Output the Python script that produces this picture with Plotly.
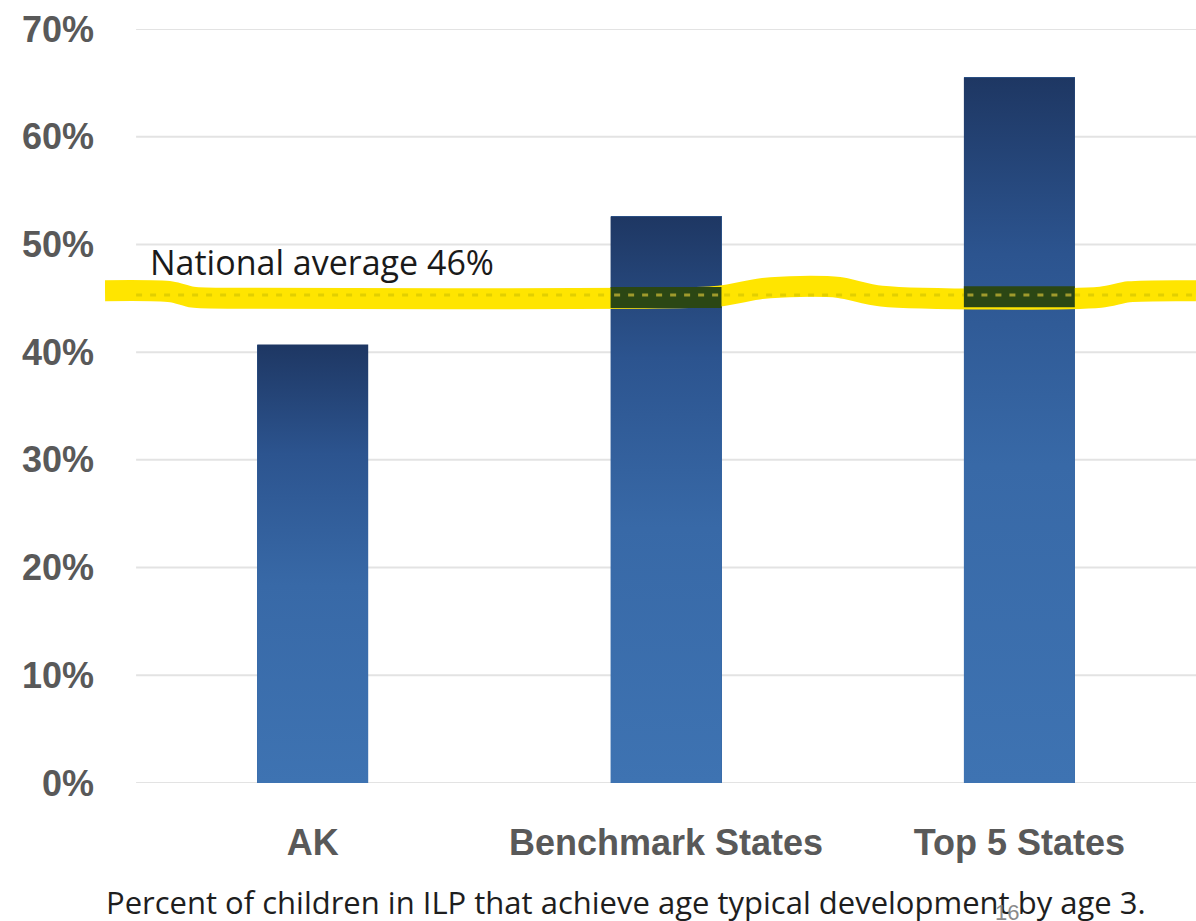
import numpy as np
import plotly.graph_objects as go

# ---- data ----
CATEGORIES = ["AK", "Benchmark States", "Top 5 States"]
VALUES = [0.407, 0.526, 0.655]
NATIONAL_AVG_LABEL = "National average 46%"
NATIONAL_AVG_LINE = 0.453
Y_TICKS = [0, 0.1, 0.2, 0.3, 0.4, 0.5, 0.6, 0.7]
Y_TICK_TEXT = ["0%", "10%", "20%", "30%", "40%", "50%", "60%", "70%"]
CAPTION = "Percent of children in ILP that achieve age typical development by age 3."
SLIDE_NO = "16"

# hand-drawn highlighter stroke (x in category units, y in value units)
HL_X = [-0.588, -0.40, -0.34, -0.18, 0.93, 1.15, 1.27, 1.38, 1.49, 1.61, 2.23, 2.31, 2.50]
HL_Y = [0.457, 0.456, 0.451, 0.450, 0.450, 0.452, 0.459, 0.461, 0.460, 0.452, 0.451, 0.456, 0.457]

BAR_W = 0.314
HL_WIDTH = 21
pos = list(range(len(CATEGORIES)))

fig = go.Figure()

# gridlines
for t in Y_TICKS:
    fig.add_shape(type="line", xref="x", yref="y", x0=-0.5, x1=2.5, y0=t, y1=t,
                  line=dict(color="#e3e3e3", width=2), layer="below")

# bars (base) and gradient overlay
fig.add_trace(go.Bar(x=pos, y=VALUES, width=BAR_W, marker=dict(color="#3566a2", line=dict(width=0)),
                     hoverinfo="skip", showlegend=False))
grad = [[0.0, "#3e73b2"], [0.45, "#3869a7"], [0.75, "#2c548f"], [1.0, "#1e3763"]]
for p, v in zip(pos, VALUES):
    l, r = p - BAR_W / 2, p + BAR_W / 2
    fig.add_trace(go.Scatter(x=[l, r, r, l, l], y=[0, 0, v, v, 0], mode="lines", fill="toself",
                             line=dict(width=0), fillgradient=dict(type="vertical", colorscale=grad),
                             hoverinfo="skip", showlegend=False))

# highlighter stroke
fig.add_trace(go.Scatter(x=HL_X, y=HL_Y, mode="lines",
                         line=dict(color="#ffe500", width=HL_WIDTH, shape="spline", smoothing=0.8),
                         hoverinfo="skip", showlegend=False))
# faint dashed average line visible through highlighter
fig.add_trace(go.Scatter(x=[-0.5, 2.5], y=[NATIONAL_AVG_LINE] * 2, mode="lines",
                         line=dict(color="#e2cf00", width=3, dash="6px,8px"), hoverinfo="skip", showlegend=False))

# highlighter over bars -> dark green band
hl_px_per_unit = 1077.0
half = (HL_WIDTH / 2) / hl_px_per_unit
for p, v in zip(pos, VALUES):
    yc = float(np.interp(p, HL_X, HL_Y))
    if v > yc - half:
        l, r = p - BAR_W / 2, p + BAR_W / 2
        top = min(v, yc + half)
        fig.add_trace(go.Scatter(x=[l, r, r, l, l], y=[yc - half, yc - half, top, top, yc - half],
                                 mode="lines", fill="toself", fillcolor="#2b4714", line=dict(width=0),
                                 hoverinfo="skip", showlegend=False))
        fig.add_trace(go.Scatter(x=[l + 0.01, r], y=[NATIONAL_AVG_LINE] * 2, mode="lines",
                                 line=dict(color="#9f9a2c", width=3, dash="6px,8px"),
                                 hoverinfo="skip", showlegend=False))

# annotations
fig.add_annotation(x=-0.466, y=0.4837, xref="x", yref="y", text=NATIONAL_AVG_LABEL, showarrow=False,
                   xanchor="left", yanchor="middle",
                   font=dict(family="Open Sans", size=34, color="#1a1a1a"))
fig.add_annotation(x=0.478, y=-0.158, xref="paper", yref="paper", text=CAPTION, showarrow=False,
                   xanchor="center", yanchor="middle",
                   font=dict(family="Open Sans", size=31, color="#1e1e1e"))
fig.add_annotation(x=0.827, y=-0.172, xref="paper", yref="paper", text=SLIDE_NO, showarrow=False,
                   xanchor="center", yanchor="middle",
                   font=dict(family="Liberation Sans", size=22, color="#8a8a8a"))

fig.update_layout(
    width=1196, height=921,
    margin=dict(l=105, r=0, t=29, b=138),
    plot_bgcolor="white", paper_bgcolor="white",
    showlegend=False, bargap=0,
    xaxis=dict(range=[-0.588, 2.5], tickmode="array", tickvals=pos, ticktext=CATEGORIES,
               showgrid=False, zeroline=False, showline=False, ticks="",
               ticklabelstandoff=35,
               tickfont=dict(family="Liberation Sans", size=36, color="#595959", weight="bold")),
    yaxis=dict(range=[0, 0.7], tickmode="array", tickvals=Y_TICKS, ticktext=Y_TICK_TEXT,
               showgrid=False, zeroline=False, showline=False, ticks="",
               ticklabelstandoff=10,
               tickfont=dict(family="Liberation Sans", size=36, color="#595959", weight="bold")),
)

fig.write_html("out.html", config={"displayModeBar": False},
               post_script="document.body.style.margin='0';document.body.style.overflow='hidden';")
